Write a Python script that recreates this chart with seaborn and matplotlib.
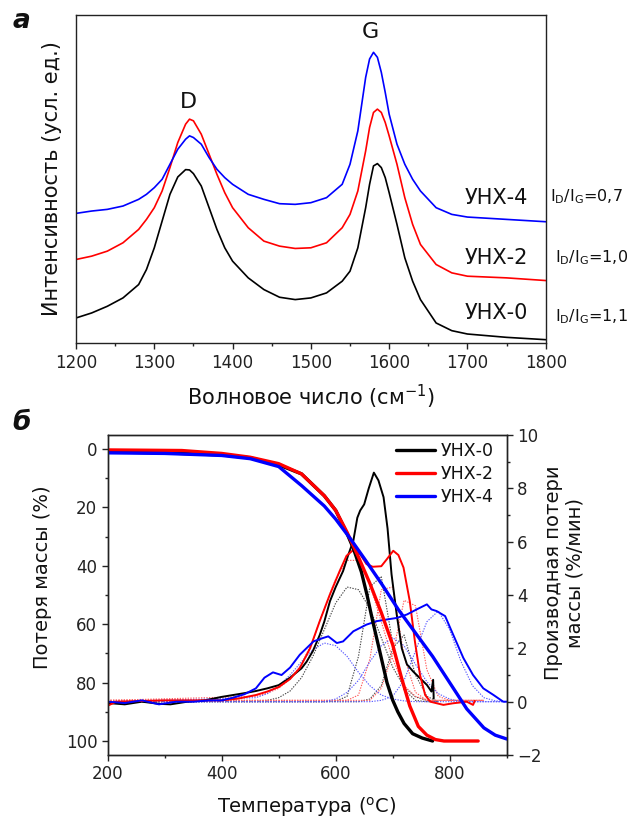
import numpy as np
import pandas as pd
import matplotlib
matplotlib.use("Agg")
import matplotlib.pyplot as plt
import seaborn as sns
from matplotlib.ticker import MultipleLocator

nan = np.nan

# ---------------- Raman spectra (panel а) ----------------
samples = ["УНХ-0", "УНХ-2", "УНХ-4"]
id_ig_ratio = ["1,1", "1,0", "0,7"]

wavenumber = [1200, 1220, 1240, 1260, 1280, 1290, 1300, 1310, 1320, 1330,
              1340, 1345, 1350, 1360, 1370, 1380, 1390, 1400, 1420, 1440,
              1460, 1480, 1500, 1520, 1540, 1550, 1560, 1570, 1575, 1580,
              1585, 1590, 1595, 1600, 1610, 1620, 1630, 1640, 1660, 1680,
              1700, 1750, 1800]
raman_unx0 = [75, 90, 110, 135, 175, 220, 285, 365, 445, 497,
              519, 518, 507, 470, 405, 340, 285, 245, 195, 160,
              137, 130, 135, 150, 185, 215, 285, 405, 475, 530,
              537, 525, 495, 450, 355, 255, 185, 130, 60, 37,
              27, 17, 10]
raman_unx2 = [250, 260, 275, 300, 340, 370, 405, 455, 525, 600,
              655, 670, 665, 625, 565, 505, 450, 405, 345, 305,
              290, 283, 285, 300, 345, 385, 455, 575, 645, 690,
              700, 690, 660, 620, 535, 435, 355, 295, 235, 210,
              200, 195, 187]
raman_unx4 = [388, 395, 400, 410, 430, 445, 465, 490, 535, 580,
              610, 620, 615, 595, 555, 520, 495, 475, 445, 430,
              417, 415, 420, 435, 475, 535, 635, 795, 850, 870,
              855, 810, 750, 685, 595, 535, 490, 455, 405, 385,
              377, 370, 363]

# ---------------- Thermogravimetry (panel б) ----------------
tg_unx0_t = [200, 300, 400, 450, 500, 540, 580, 600, 620, 631,
             645, 655, 665, 677, 690, 700, 709, 720, 735, 752, 770]
tg_unx0 = [1.0, 1.3, 2.0, 3.0, 5.4, 8.5, 16, 21, 29, 34,
           42, 50, 59, 69, 80, 86, 90, 94, 97.5, 99, 100]
tg_unx2_t = [200, 330, 400, 450, 500, 540, 580, 600, 620, 640,
             660, 680, 700, 715, 730, 745, 760, 775, 790, 850]
tg_unx2 = [0.3, 0.5, 1.5, 2.8, 5.0, 8.5, 16, 21, 28.5, 37,
           46, 56, 67, 78, 88, 95, 98, 99.5, 100, 100]
tg_unx4_t = [200, 300, 400, 450, 500, 540, 580, 600, 625, 652,
             680, 710, 740, 770, 800, 830, 860, 880, 900]
tg_unx4 = [1.3, 1.5, 2.2, 3.3, 6.0, 12.5, 19.5, 24, 30.5, 38,
           46, 55, 63, 71, 80, 89, 95.5, 98, 99.3]

dtg_unx0_t = [200, 230, 260, 290, 310, 340, 370, 400, 420, 440,
              460, 480, 500, 520, 540, 549, 560, 572, 580, 590,
              600, 613, 622, 631, 638, 643, 650, 658, 667, 675,
              684, 691, 698, 707, 716, 725, 736, 748, 760, 768,
              771, 772]
dtg_unx0 = [-0.05, -0.1, 0.0, -0.08, -0.1, 0.0, 0.05, 0.18, 0.25, 0.32,
            0.4, 0.5, 0.62, 0.9, 1.25, 1.5, 1.9, 2.5, 3.0, 3.77,
            4.3, 4.9, 5.5, 6.04, 6.9, 7.17, 7.4, 8.0, 8.59, 8.3,
            7.67, 6.5, 4.78, 3.28, 2.0, 1.4, 1.13, 0.88, 0.63, 0.38,
            0.82, 0.12]
dtg_unx2_t = [200, 215, 300, 400, 430, 460, 480, 500, 520, 537,
              555, 572, 590, 607, 619, 631, 643, 654, 665, 680,
              690, 701, 710, 719, 730, 739, 748, 757, 766, 789,
              806, 830, 841, 844]
dtg_unx2 = [-0.15, 0.0, 0.05, 0.05, 0.12, 0.25, 0.38, 0.55, 0.85, 1.26,
            2.0, 3.02, 4.03, 4.9, 5.47, 5.69, 5.53, 5.16, 5.06, 5.08,
            5.35, 5.66, 5.5, 5.03, 3.77, 2.26, 1.0, 0.25, 0.0, -0.12,
            -0.06, 0.0, -0.12, 0.03]
dtg_unx4_t = [200, 230, 260, 290, 320, 350, 380, 400, 420, 440,
              460, 475, 490, 505, 520, 537, 561, 578, 587, 602,
              613, 631, 654, 672, 689, 707, 725, 742, 760, 768,
              777, 792, 806, 824, 841, 859, 877, 894, 900]
dtg_unx4 = [0.0, -0.05, 0.05, -0.1, 0.0, 0.0, 0.05, 0.05, 0.15, 0.28,
            0.5, 0.9, 1.1, 1.0, 1.28, 1.76, 2.26, 2.39, 2.45, 2.2,
            2.26, 2.64, 2.89, 3.02, 3.08, 3.14, 3.27, 3.46, 3.65, 3.46,
            3.4, 3.21, 2.52, 1.64, 1.0, 0.5, 0.25, 0.0, 0.0]

# fitted peak components of the DTG curves
fit_temp = [200, 460, 480, 500, 520, 540, 560, 580, 600, 620, 640, 660,
            680, 700, 720, 740, 760, 780, 800, 820, 840, 860, 880, 900]
fit_unx0_a = [0, 0.02, 0.05, 0.15, 0.4, 0.9, 1.7, 2.7, 3.7, 4.3, 4.2, 3.5,
              2.4, 1.3, 0.55, 0.18, 0.05, 0, nan, nan, nan, nan, nan, nan]
fit_unx0_b = [0, 0, 0, 0, 0, 0, 0, 0, 0.02, 0.2, 1.7, 4.3,
              4.7, 2.2, 0.45, 0.05, 0, 0, nan, nan, nan, nan, nan, nan]
fit_unx0_c = [0, 0, 0, 0, 0, 0, 0, 0, 0, 0, 0, 0.1,
              0.6, 2.0, 2.5, 1.0, 0.2, 0, nan, nan, nan, nan, nan, nan]
fit_unx2_a = [0.05, 0.2, 0.32, 0.5, 0.85, 1.4, 2.3, 3.5, 4.6, 5.3, 5.3, 4.4,
              3.0, 1.6, 0.6, 0.2, 0.05, 0.05, 0.05, 0.05, 0.05, 0.05, nan, nan]
fit_unx2_b = [0.05, 0.05, 0.05, 0.05, 0.05, 0.05, 0.05, 0.05, 0.05, 0.05, 0.25, 1.6,
              4.2, 4.3, 1.7, 0.35, 0.05, 0.05, 0.05, 0.05, 0.05, 0.05, nan, nan]
fit_unx2_c = [0.05, 0.05, 0.05, 0.05, 0.05, 0.05, 0.05, 0.05, 0.05, 0.05, 0.05, 0.05,
              0.5, 1.8, 3.8, 3.6, 1.2, 0.2, 0.05, 0.05, 0.05, 0.05, nan, nan]
fit_unx4_a = [0, 0.15, 0.3, 0.6, 1.0, 1.5, 1.95, 2.2, 2.1, 1.7, 1.1, 0.6,
              0.25, 0.1, 0.03, 0, 0, 0, 0, 0, 0, 0, 0, 0]
fit_unx4_b = [0, 0, 0, 0, 0, 0, 0, 0, 0.1, 0.35, 0.8, 1.5,
              2.1, 2.4, 2.1, 1.4, 0.75, 0.3, 0.1, 0, 0, 0, 0, 0]
fit_unx4_c = [0, 0, 0, 0, 0, 0, 0, 0, 0, 0, 0, 0,
              0.05, 0.2, 0.8, 1.9, 3.0, 3.4, 2.7, 1.5, 0.6, 0.15, 0.03, 0]

palette = {"УНХ-0": "#000000", "УНХ-2": "#ff0000", "УНХ-4": "#0000ff"}
fit_colors = {"УНХ-0": "#444444", "УНХ-2": "#ff5a5a", "УНХ-4": "#5a5aff"}

# ---------------- style ----------------
sns.set_theme(style="ticks")
plt.rcParams["font.family"] = ["DejaVu Sans"]
plt.rcParams["mathtext.fontset"] = "dejavusans"
plt.rcParams["axes.edgecolor"] = "#222222"
plt.rcParams["axes.linewidth"] = 1.0
plt.rcParams["xtick.color"] = "#222222"
plt.rcParams["ytick.color"] = "#222222"
plt.rcParams["text.color"] = "#111111"
plt.rcParams["axes.labelcolor"] = "#111111"

fig = plt.figure(figsize=(6.35, 8.23), dpi=100)
fig.patch.set_facecolor("white")

# ---------------- panel а: Raman ----------------
ax_r = fig.add_axes([0.1197, 0.5832, 0.7397, 0.3991])
raman_df = pd.DataFrame({
    "wn": wavenumber * 3,
    "I": raman_unx0 + raman_unx2 + raman_unx4,
    "sample": sum([[s] * len(wavenumber) for s in samples], []),
})
sns.lineplot(data=raman_df, x="wn", y="I", hue="sample", palette=palette,
             estimator=None, sort=False, legend=False, lw=1.2, ax=ax_r)
ax_r.set_xlim(1200, 1800)
ax_r.set_ylim(0, 983)
ax_r.set_yticks([])
ax_r.xaxis.set_major_locator(MultipleLocator(100))
ax_r.xaxis.set_minor_locator(MultipleLocator(50))
ax_r.tick_params(axis="x", which="major", direction="out", length=4, width=1,
                 labelsize=12, pad=4, top=False)
ax_r.tick_params(axis="x", which="minor", direction="out", length=2.5, width=1, top=False)
ax_r.set_xlabel("Волновое число (см$^{-1}$)", fontsize=15)
ax_r.set_ylabel("Интенсивность (усл. ед.)", fontsize=15)
ax_r.xaxis.set_label_coords(0.5, -0.12)
ax_r.yaxis.set_label_coords(-0.03, 0.5)
for sp in ax_r.spines.values():
    sp.set_visible(True)

ax_r.text(1344, 720, "D", fontsize=16, ha="center", va="center")
ax_r.text(1576, 930, "G", fontsize=16, ha="center", va="center")
label_y = {"УНХ-0": 90, "УНХ-2": 255, "УНХ-4": 435}
for s in samples:
    ax_r.text(1696, label_y[s], s, fontsize=15, ha="left", va="center")

ratio_pos = {"УНХ-0": (0.874, 0.6148), "УНХ-2": (0.874, 0.6865), "УНХ-4": (0.866, 0.7606)}
for s, r in zip(samples, id_ig_ratio):
    x, y = ratio_pos[s]
    fig.text(x, y, r"I$_\mathrm{D}$/I$_\mathrm{G}$=" + r, fontsize=11.5,
             ha="left", va="center")

fig.text(0.02, 0.975, "а", fontsize=19, fontweight="bold", fontstyle="italic",
         ha="left", va="center")
fig.text(0.02, 0.486, "б", fontsize=19, fontweight="bold", fontstyle="italic",
         ha="left", va="center")

# ---------------- panel б: TG / DTG ----------------
ax_m = fig.add_axes([0.1696, 0.0826, 0.6283, 0.3888])
ax_d = ax_m.twinx()

tg_df = pd.DataFrame({
    "T": tg_unx0_t + tg_unx2_t + tg_unx4_t,
    "m": tg_unx0 + tg_unx2 + tg_unx4,
    "sample": ["УНХ-0"] * len(tg_unx0_t) + ["УНХ-2"] * len(tg_unx2_t)
              + ["УНХ-4"] * len(tg_unx4_t),
})
dtg_df = pd.DataFrame({
    "T": dtg_unx0_t + dtg_unx2_t + dtg_unx4_t,
    "d": dtg_unx0 + dtg_unx2 + dtg_unx4,
    "sample": ["УНХ-0"] * len(dtg_unx0_t) + ["УНХ-2"] * len(dtg_unx2_t)
              + ["УНХ-4"] * len(dtg_unx4_t),
})

# fitted components (dotted, thin)
fits = [("УНХ-0", fit_unx0_a), ("УНХ-0", fit_unx0_b), ("УНХ-0", fit_unx0_c),
        ("УНХ-2", fit_unx2_a), ("УНХ-2", fit_unx2_b), ("УНХ-2", fit_unx2_c),
        ("УНХ-4", fit_unx4_a), ("УНХ-4", fit_unx4_b), ("УНХ-4", fit_unx4_c)]
for s, vals in fits:
    sns.lineplot(x=fit_temp, y=vals, color=fit_colors[s], lw=0.8,
                 linestyle=(0, (1.2, 1.2)), ax=ax_d, legend=False)

sns.lineplot(data=dtg_df, x="T", y="d", hue="sample", palette=palette,
             estimator=None, sort=False, legend=False, lw=1.4, ax=ax_d)
sns.lineplot(data=tg_df, x="T", y="m", hue="sample", palette=palette,
             estimator=None, sort=False, lw=2.4, ax=ax_m)

ax_m.set_zorder(ax_d.get_zorder() + 1)
ax_m.patch.set_visible(False)

ax_m.set_xlim(200, 900)
ax_m.set_ylim(104.8, -4.8)
ax_d.set_ylim(-2, 10)
ax_m.xaxis.set_major_locator(MultipleLocator(200))
ax_m.xaxis.set_minor_locator(MultipleLocator(100))
ax_m.yaxis.set_major_locator(MultipleLocator(20))
ax_m.yaxis.set_minor_locator(MultipleLocator(10))
ax_d.yaxis.set_major_locator(MultipleLocator(2))
ax_d.yaxis.set_minor_locator(MultipleLocator(1))
for a in (ax_m, ax_d):
    a.tick_params(which="major", direction="out", length=4, width=1, labelsize=12)
    a.tick_params(which="minor", direction="out", length=2.5, width=1)
ax_m.tick_params(axis="x", top=False, which="both")
ax_m.tick_params(axis="y", right=False, which="both")

ax_m.set_xlabel("Температура ($^{\\mathrm{o}}$C)", fontsize=14)
ax_m.set_ylabel("Потеря массы (%)", fontsize=14)
ax_d.set_ylabel("Производная потери\nмассы (%/мин)", fontsize=14, linespacing=1.15)
ax_m.xaxis.set_label_coords(0.5, -0.125)
ax_m.yaxis.set_label_coords(-0.14, 0.555)
ax_d.yaxis.set_label_coords(1.093, 0.57)
ax_d.set_xlabel("")

handles, labels = ax_m.get_legend_handles_labels()
ax_m.legend(handles, labels, loc="upper right", bbox_to_anchor=(0.985, 1.0),
            frameon=False, fontsize=12.5, handlelength=2.2, handletextpad=0.35,
            labelspacing=0.3, borderaxespad=0.2, borderpad=0.2)

for a in (ax_m, ax_d):
    for sp in a.spines.values():
        sp.set_visible(True)

fig.savefig("out.png", dpi=100, facecolor="white")
